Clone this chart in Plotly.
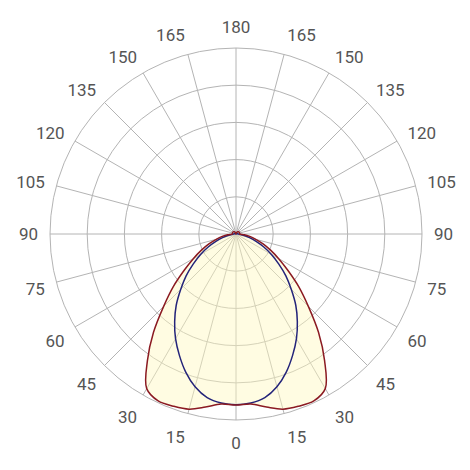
import plotly.graph_objects as go

# gamma angles (deg from nadir), one half of each symmetric curve
angles = [0, 5, 10, 15, 20, 25, 30, 35, 40, 45, 50, 55, 60, 65, 70, 75, 80, 85, 90,
          105, 120, 135, 150, 165, 180]

# relative intensity, C0-C180 plane (red)
red_vals = [0.92, 0.918, 0.945, 0.975, 0.985, 0.99, 0.96, 0.83, 0.69, 0.55, 0.44,
            0.34, 0.265, 0.205, 0.155, 0.11, 0.075, 0.045, 0.02,
            0.02, 0.02, 0.018, 0.012, 0.005, 0.0]

# relative intensity, C90-C270 plane (blue)
blue_vals = [0.918, 0.912, 0.893, 0.85, 0.79, 0.72, 0.65, 0.575, 0.50, 0.42, 0.35,
             0.28, 0.22, 0.165, 0.115, 0.075, 0.045, 0.025, 0.012,
             0.006, 0.004, 0.003, 0.002, 0.001, 0.0]

tick_vals = list(range(0, 360, 15))
tick_text = [str(a if a <= 180 else 360 - a) for a in tick_vals]


def mirror(vals):
    # full 360 curve from one half
    th = angles + [360 - a for a in reversed(angles[:-1])]
    r = vals + list(reversed(vals[:-1]))
    return th, r


red_th, red_r = mirror(red_vals)
blue_th, blue_r = mirror(blue_vals)

label_font = dict(family="Liberation Sans Narrow, Roboto", size=17, color="#555555")

fig = go.Figure()
fig.add_trace(go.Scatterpolar(
    r=red_r, theta=red_th, mode="lines", fill="toself",
    fillcolor="rgba(255,248,190,0.45)", line=dict(width=0),
    line_shape="spline", hoverinfo="skip", showlegend=False
))
fig.add_trace(go.Scatterpolar(
    r=blue_r, theta=blue_th, mode="lines",
    line=dict(color="#24247a", width=1.5, shape="spline"),
    name="C90-C270", showlegend=False
))
fig.add_trace(go.Scatterpolar(
    r=red_r, theta=red_th, mode="lines",
    line=dict(color="#8b1a22", width=1.5, shape="spline"),
    name="C0-C180", showlegend=False
))

# page body has an 8px margin, so shift the circle up/left
fig.update_layout(
    width=470, height=470,
    margin=dict(l=42, r=56, t=40, b=58),
    paper_bgcolor="white",
    font=label_font,
    polar=dict(
        bgcolor="white",
        domain=dict(x=[0, 1], y=[0, 1]),
        angularaxis=dict(
            rotation=270, direction="counterclockwise",
            tickmode="array", tickvals=tick_vals, ticktext=tick_text,
            ticks="outside", ticklen=8, tickcolor="rgba(0,0,0,0)",
            showline=True, linecolor="#b4b4b4", linewidth=1,
            gridcolor="#b4b4b4", gridwidth=1,
            tickfont=label_font,
        ),
        radialaxis=dict(
            range=[0, 1], tickvals=[0.2, 0.4, 0.6, 0.8, 1.0],
            showticklabels=False, ticks="", showline=False,
            gridcolor="#b4b4b4", gridwidth=1,
        ),
    ),
)

fig.write_html("out.html")
